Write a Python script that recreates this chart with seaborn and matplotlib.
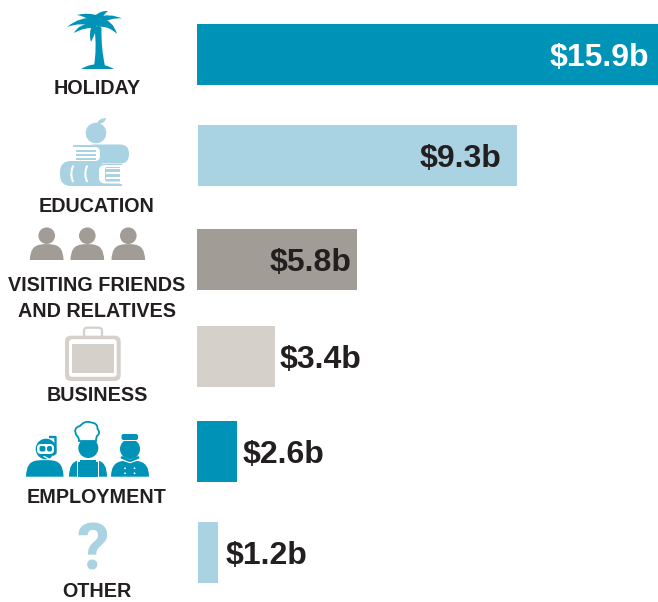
import matplotlib
matplotlib.use("Agg")
import matplotlib.pyplot as plt
from matplotlib.patches import Circle, PathPatch, FancyBboxPatch, Rectangle
from matplotlib.path import Path
import seaborn as sns

categories = ["HOLIDAY", "EDUCATION", "VISITING FRIENDS\nAND RELATIVES", "BUSINESS", "EMPLOYMENT", "OTHER"]
value_labels = ["$15.9b", "$9.3b", "$5.8b", "$3.4b", "$2.6b", "$1.2b"]
# drawn bar lengths (the source graphic is not to scale)
bar_lengths = [461, 319, 160, 78, 40, 20]

W, H = 658, 602
BLUE, LIGHT, GREY, PALE = "#0093b8", "#a9d3e3", "#a29c96", "#d5d0ca"
INK = "#231f20"
colors = [BLUE, LIGHT, GREY, PALE, BLUE, LIGHT]
bar_lefts = [197, 198, 197, 197, 197, 198]
bar_tops = [24, 125, 229, 326, 421, 522]
bar_h = 61
label_offsets = [-9, -16, -5, 5, 6, 8]

sns.set_theme(style="white")
plt.rcParams["font.family"] = ["Liberation Sans", "DejaVu Sans"]
fig = plt.figure(figsize=(W / 100, H / 100), dpi=100, facecolor="white")

for cat, length, lab, col, left, top, off in zip(categories, bar_lengths, value_labels, colors,
                                                 bar_lefts, bar_tops, label_offsets):
    ax = fig.add_axes([left / W, 1 - (top + bar_h) / H, 461 / W, bar_h / H])
    sns.barplot(x=[length], y=[cat], color=col, width=1, saturation=1, linewidth=0, ax=ax)
    ax.set_xlim(0, 461)
    ax.set_ylim(0.5, -0.5)
    ax.axis("off")
    ax.annotate(lab, (length, 0), xytext=(off * 0.72, 0), textcoords="offset points",
                ha="right" if off < 0 else "left", va="center_baseline",
                fontsize=23, fontweight="bold",
                color="white" if lab == "$15.9b" else INK, annotation_clip=False)

ov = fig.add_axes([0, 0, 1, 1], zorder=5)
ov.set_xlim(0, W)
ov.set_ylim(H, 0)
ov.axis("off")
ov.patch.set_alpha(0)


def txt(x, y, s):
    ov.text(x, y, s, ha="center", va="center_baseline", fontsize=14.2, fontweight="bold", color=INK)


txt(97, 87, "HOLIDAY")
txt(97, 205, "EDUCATION")
txt(97, 283.5, "VISITING FRIENDS")
txt(97, 309.5, "AND RELATIVES")
txt(97, 393.5, "BUSINESS")
txt(97, 495.5, "EMPLOYMENT")
txt(97, 589.5, "OTHER")


def curve(points, color, z=6):
    """points: start, then (ctrl, end) pairs"""
    verts = [points[0]]
    codes = [Path.MOVETO]
    for c, e in points[1:]:
        verts += [c, e]
        codes += [Path.CURVE3, Path.CURVE3]
    verts.append(points[0])
    codes.append(Path.CLOSEPOLY)
    ov.add_patch(PathPatch(Path(verts, codes), fc=color, ec="none", zorder=z))


def rect(x0, y0, x1, y1, color, z=6):
    ov.add_patch(Rectangle((x0, y0), x1 - x0, y1 - y0, fc=color, ec="none", zorder=z))


def rrect(x0, y0, x1, y1, r, color, z=6):
    ov.add_patch(FancyBboxPatch((x0, y0), x1 - x0, y1 - y0,
                                boxstyle=f"round,pad=0,rounding_size={r}", fc=color, ec="none", zorder=z))


def body(x0, x1, ytop, ybot, color, r=12):
    curve([(x0, ybot), ((x0, ytop + 1), (x0 + r, ytop)),
           (((x0 + x1) / 2, ytop - 1), (x1 - r, ytop)),
           ((x1, ytop + 1), (x1, ybot))], color)


# palm
curve([(94, 66), ((97, 48), (94.5, 28)), ((98, 24), (101.5, 28)), ((101, 48), (105, 66))], BLUE)
curve([(81, 69), ((97, 59.5), (114, 69))], BLUE)
fronds = [
    [(97, 17), ((110, 13), (122, 18.5)), ((110, 17), (97, 26))],
    [(100, 18), ((113, 20), (117, 34)), ((108, 25), (97, 27))],
    [(97, 18), ((80, 16), (67, 27)), ((80, 22), (97, 26))],
    [(95, 22), ((78, 24), (74, 33)), ((84, 27), (97, 28))],
    [(100, 16), ((88, 12), (77, 15)), ((88, 17), (92, 23))],
    [(95, 16), ((100, 10.5), (108, 11)), ((103, 15), (100, 21))],
    [(93, 24), ((88, 32), (91, 42)), ((95, 34), (97, 28))],
]
for f in fronds:
    curve(f, BLUE)

# apple on books
ov.add_patch(Circle((96, 133), 10.3, fc=LIGHT, ec="none", zorder=6))
curve([(97, 124), ((98, 118.5), (106, 118)), ((105, 124), (97, 124))], LIGHT)
# upper book
rrect(85, 144.5, 129, 163.5, 9, LIGHT)
rect(73, 144.5, 95, 147, LIGHT)
rrect(74, 147, 100, 161, 5, "white", z=6.3)
rect(73, 147, 90, 161, "white", z=6.3)
for y in (151, 155, 158.8):
    rect(76, y - 1, 96, y + 1, LIGHT, z=6.5)
# lower book
rrect(60, 161, 105, 186, 11, LIGHT, z=7)
rect(88, 164, 122, 186, LIGHT, z=7)
rrect(99, 165, 125, 183.5, 6, "white", z=7.1)
rrect(105, 167, 125, 181.5, 2, LIGHT, z=7.2)
for y in (168.3, 173, 178):
    rect(106, y - 0.8, 119.5, y + 0.8, "white", z=7.3)
rect(119.5, 165, 125, 183.5, "white", z=7.4)
for x in (71, 85):
    p = Path([(x + 2.3, 165.5), (x - 1.8, 174), (x + 2.3, 182)], [Path.MOVETO, Path.CURVE3, Path.CURVE3])
    ov.add_patch(PathPatch(p, fc="none", ec="white", lw=1.5, zorder=8))

# three visitors
for cx in (46.7, 87.3, 128.3):
    ov.add_patch(Circle((cx, 235.7), 8.3, fc=GREY, ec="none", zorder=6))
    body(cx - 16.8, cx + 16.8, 244.5, 260, GREY, r=11)

# briefcase
rrect(65, 335.7, 120.7, 381, 6, PALE)
rrect(69, 339.2, 116.7, 376.8, 3, "white", z=6.1)
rect(72.3, 344.2, 114.3, 372.8, PALE, z=6.2)
ov.add_patch(FancyBboxPatch((84, 327.7), 18, 10, boxstyle="round,pad=0,rounding_size=3",
                            fc="none", ec=PALE, lw=1.6, zorder=5.9))

# diver
ov.add_patch(Circle((46, 449), 10.3, fc=BLUE, ec="none", zorder=6))
body(26, 63.5, 460.5, 476.7, BLUE, r=11)
rrect(37, 444, 54, 454, 4, "white", z=7)
rrect(39.5, 446, 45.5, 451.5, 2, BLUE, z=7.1)
rrect(47, 446, 52, 451.5, 2, BLUE, z=7.1)
ov.plot([49, 55.5, 55.5, 50], [437, 437, 453, 457], color=BLUE, lw=1.7, zorder=6.5, solid_capstyle="butt")
ov.plot([44, 50, 53], [456.5, 459.5, 456], color="white", lw=0.9, zorder=7)

# chef
ov.add_patch(Circle((88.3, 448), 10, fc=BLUE, ec="none", zorder=6))
hat = [(79, 441), ((79, 437), (77, 436)), ((72, 428), (80, 426)), ((85, 420), (91, 422.5)),
       ((98, 423), (97.5, 429)), ((101, 433), (97, 436)), ((96, 438), (96, 441))]
verts = [hat[0]]
codes = [Path.MOVETO]
for a, b in hat[1:]:
    verts += [a, b]
    codes += [Path.CURVE3, Path.CURVE3]
verts.append(hat[0])
codes.append(Path.CLOSEPOLY)
ov.add_patch(PathPatch(Path(verts, codes), fc="white", ec=BLUE, lw=1.3, zorder=6.5))
body(69, 107, 460.5, 476.7, BLUE, r=10)
rect(77, 460, 99, 476.7, "white", z=6.9)
rect(78.4, 461.5, 97.6, 476.7, BLUE, z=7)
rect(80, 459.5, 96, 466.5, BLUE, z=7.1)

# bellhop
ov.add_patch(Circle((130, 449), 10, fc=BLUE, ec="none", zorder=6))
rrect(121.5, 434, 138, 440, 2, BLUE)
rect(121, 440, 139, 441, "white", z=6.5)
body(111, 149, 461, 476.7, BLUE, r=12)
ov.plot([122, 130, 138], [457.5, 461, 457.5], color=BLUE, lw=2, zorder=6.2)
ov.plot([122, 130, 138], [460, 462.7, 460], color="white", lw=0.8, zorder=6.3)
for x in (125, 134.5):
    for y in (468.3, 473.3):
        ov.add_patch(Circle((x, y), 0.9, fc="white", ec="none", zorder=7))

# question mark
ov.text(93, 545, "?", ha="center", va="center_baseline", fontsize=47, fontweight="bold",
        color=LIGHT, family=["Roboto", "Liberation Sans"])

fig.savefig("out.png", dpi=100, facecolor="white")
